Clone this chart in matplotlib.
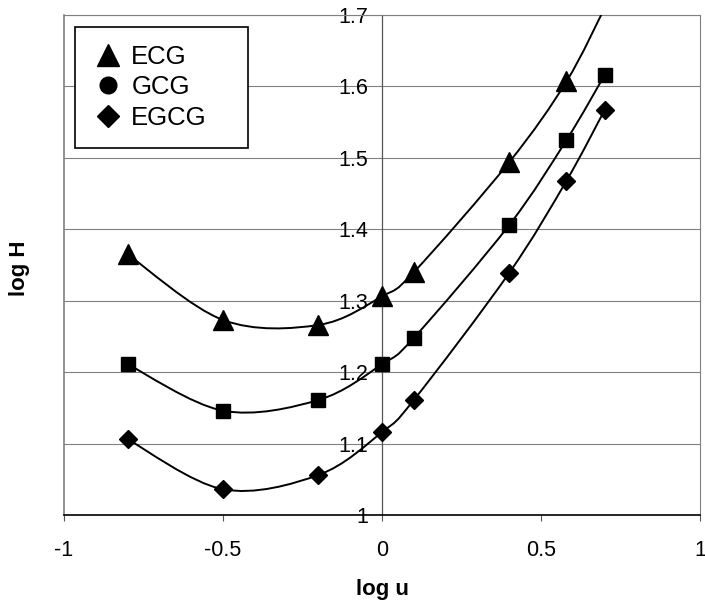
import numpy as np
import matplotlib
matplotlib.use("Agg")
import matplotlib.pyplot as plt
from matplotlib.path import Path
from matplotlib.patches import PathPatch
from matplotlib.lines import Line2D

plt.rcParams['font.family'] = ['Liberation Sans', 'DejaVu Sans']

# data
log_u = [-0.8, -0.5, -0.2, 0.0, 0.1, 0.4, 0.58, 0.7]
ecg = [1.365, 1.273, 1.266, 1.306, 1.340, 1.494, 1.607, 1.710]
gcg = [1.211, 1.146, 1.161, 1.211, 1.248, 1.406, 1.525, 1.616]
egcg = [1.106, 1.036, 1.056, 1.116, 1.161, 1.339, 1.468, 1.567]

x_ticks = [-1, -0.5, 0, 0.5, 1]
x_tick_labels = ["-1", "-0.5", "0", "0.5", "1"]
y_ticks = [1, 1.1, 1.2, 1.3, 1.4, 1.5, 1.6, 1.7]
y_tick_labels = ["1", "1.1", "1.2", "1.3", "1.4", "1.5", "1.6", "1.7"]


# smoothed line like the spreadsheet one (cubic bezier through the points)
def smooth_path(xs, ys):
    p = np.column_stack([xs, ys]).astype(float)
    n = len(p)
    verts = [p[0]]
    codes = [Path.MOVETO]
    for i in range(n - 1):
        p0 = p[i - 1] if i > 0 else p[i]
        p3 = p[i + 2] if i + 2 < n else p[i + 1]
        c1 = p[i] + (p[i + 1] - p0) / 6.0
        c2 = p[i + 1] - (p3 - p[i]) / 6.0
        verts += [c1, c2, p[i + 1]]
        codes += [Path.CURVE4] * 3
    return Path(verts, codes)


fig = plt.figure(figsize=(7.05, 6.07), dpi=100)
ax = fig.add_axes([0.0908, 0.1516, 0.9022, 0.8237])

series = [(ecg, "^", 14), (gcg, "s", 10), (egcg, "D", 9)]
for ys, mk, ms in series:
    ax.add_patch(PathPatch(smooth_path(log_u, ys), facecolor="none",
                           edgecolor="black", lw=1.4, zorder=3))
    # the ECG point at 0.7 is above the plot, only its line shows
    show = [i for i in range(len(log_u)) if ys[i] <= 1.7]
    ax.plot(np.array(log_u)[show], np.array(ys)[show], linestyle="none",
            marker=mk, ms=ms, color="black", zorder=4)

ax.set_xlim(-1, 1)
ax.set_ylim(1, 1.7)
ax.set_xticks(x_ticks)
ax.set_xticklabels(x_tick_labels)
ax.set_yticks(y_ticks)
ax.set_yticklabels(y_tick_labels)
ax.tick_params(axis="x", direction="out", length=4.3, width=0.8, pad=13.5,
               labelsize=15.5, color="#555555")
ax.tick_params(axis="y", direction="out", length=0, pad=10,
               labelsize=15.5)
for lab in ax.get_yticklabels():
    lab.set_verticalalignment("center")

ax.grid(axis="y", color="#808080", lw=0.8, zorder=0)
ax.set_axisbelow(True)

ax.spines["left"].set_position(("data", 0))
ax.spines["left"].set_color("#555555")
ax.spines["left"].set_linewidth(0.9)
ax.spines["bottom"].set_color("black")
ax.spines["bottom"].set_linewidth(1.2)
for s in ["top", "right"]:
    ax.spines[s].set_color("#808080")
    ax.spines[s].set_linewidth(0.8)
ax.axvline(-1, color="#808080", lw=1.2, zorder=1, clip_on=False)

ax.set_xlabel("log u", fontsize=16, fontweight="bold", va="center")
ax.xaxis.set_label_coords(0.5, -0.15)
fig.text(0.027, 0.558, "log H", rotation=90, fontsize=16, fontweight="bold",
         ha="center", va="center")

handles = [Line2D([], [], linestyle="none", marker="^", ms=16, color="black"),
           Line2D([], [], linestyle="none", marker="o", ms=12, color="black"),
           Line2D([], [], linestyle="none", marker="D", ms=11, color="black")]
leg = ax.legend(handles, ["ECG", "GCG", "EGCG"], loc="upper left",
                bbox_to_anchor=(0.017, 0.5, 0.272, 0.476), mode="expand",
                borderaxespad=0, fontsize=18.5,
                frameon=True, fancybox=False, framealpha=1, edgecolor="black",
                handlelength=1.2, handletextpad=0.3, labelspacing=0.25,
                borderpad=0.7)
leg.get_frame().set_linewidth(1.2)

fig.savefig("out.png", dpi=100)
